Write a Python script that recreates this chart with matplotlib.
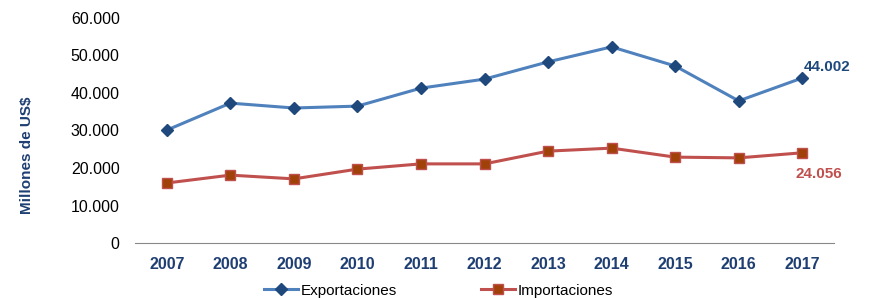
import matplotlib
matplotlib.use('Agg')
import matplotlib.pyplot as plt
from matplotlib.ticker import FuncFormatter

plt.rcParams['font.family'] = ['Liberation Sans', 'DejaVu Sans']

years = ['2007', '2008', '2009', '2010', '2011', '2012', '2013', '2014', '2015', '2016', '2017']
exportaciones = [30100, 37300, 36000, 36500, 41300, 43700, 48300, 52300, 47200, 37900, 44002]
importaciones = [16000, 18100, 17100, 19700, 21100, 21100, 24500, 25300, 22900, 22700, 24056]

navy = '#1F3F73'
blue = '#4F81BD'
red = '#C0504D'

fig = plt.figure(figsize=(8.69, 2.98), dpi=100)
ax = fig.add_axes([135 / 869, 1 - 243 / 298, 699 / 869, 225 / 298])

x = range(len(years))
ax.plot(x, exportaciones, color=blue, lw=2.2, marker='D', ms=6.5,
        markerfacecolor='#1F497D', markeredgecolor='#1F497D', label='Exportaciones')
ax.plot(x, importaciones, color=red, lw=2.2, marker='s', ms=6.5,
        markerfacecolor='#A0410A', markeredgecolor=red, label='Importaciones')

ax.annotate('44.002', (x[-1], exportaciones[-1]), xytext=(1, 3), textcoords='offset points',
            color='#1F497D', fontsize=11, fontweight='bold', ha='left', va='bottom')
ax.annotate('24.056', (x[-1], importaciones[-1]), xytext=(-5, -10), textcoords='offset points',
            color=red, fontsize=11, fontweight='bold', ha='left', va='top')

ax.set_xlim(-0.5, len(years) - 0.5)
ax.set_ylim(0, 60000)
ax.set_yticks(range(0, 60001, 10000))
ax.yaxis.set_major_formatter(FuncFormatter(lambda v, p: '0' if v == 0 else f'{int(v):,}'.replace(',', '.')))
ax.set_xticks(list(x))
ax.set_xticklabels(years, fontweight='bold', color=navy, fontsize=11.5)
ax.tick_params(axis='y', length=0, labelsize=11.5, pad=11)
ax.tick_params(axis='x', length=0, pad=10)

for s in ['top', 'right', 'left']:
    ax.spines[s].set_visible(False)
ax.spines['bottom'].set_color('#888888')

ax.set_ylabel('Millones de US$', fontweight='bold', color=navy, fontsize=11)
ax.yaxis.set_label_coords(-0.145, 0.39)

fig.legend(loc='lower center', bbox_to_anchor=(0.505, -0.045), ncol=2, frameon=False,
           fontsize=11, handlelength=2.2, columnspacing=5.5, handletextpad=0.2)

fig.savefig('out.png', dpi=100)
